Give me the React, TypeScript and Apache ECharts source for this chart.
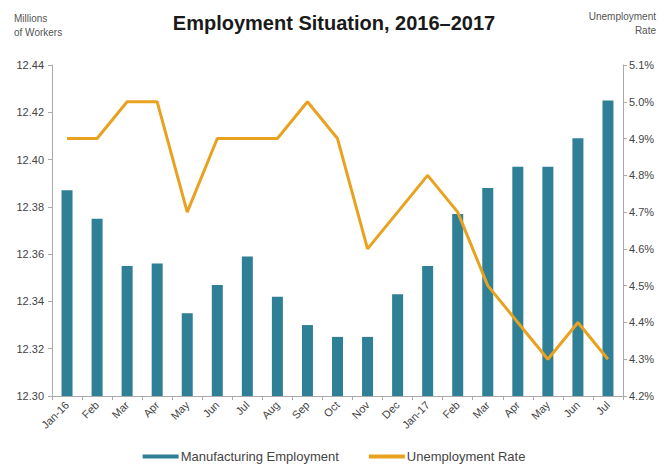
import React, { useEffect, useRef } from "react";
import * as echarts from "echarts";

const categories = ["Jan-16", "Feb", "Mar", "Apr", "May", "Jun", "Jul", "Aug", "Sep", "Oct", "Nov", "Dec", "Jan-17", "Feb", "Mar", "Apr", "May", "Jun", "Jul"];
const manufacturing = [12.387, 12.375, 12.355, 12.356, 12.335, 12.347, 12.359, 12.342, 12.330, 12.325, 12.325, 12.343, 12.355, 12.377, 12.388, 12.397, 12.397, 12.409, 12.425];
const unemployment = [4.9, 4.9, 5.0, 5.0, 4.7, 4.9, 4.9, 4.9, 5.0, 4.9, 4.6, 4.7, 4.8, 4.7, 4.5, 4.4, 4.3, 4.4, 4.3];

const FONT = "Liberation Sans, Arial, sans-serif";

export default function App() {
  const ref = useRef<HTMLDivElement>(null);
  useEffect(() => {
    document.body.style.margin = "0";
    if (!ref.current) return;
    const chart = echarts.init(ref.current, null, { renderer: "svg" });
    chart.setOption({
      animation: false,
      backgroundColor: "#ffffff",
      textStyle: { fontFamily: FONT },
      title: {
        text: "Employment Situation, 2016–2017",
        left: "center",
        top: 8,
        textStyle: { fontSize: 20, fontWeight: "bold", color: "#1a1a1a", fontFamily: FONT },
      },
      graphic: [
        {
          type: "text",
          left: 14,
          top: 11,
          style: { text: "Millions\nof Workers", fontSize: 10, fill: "#555", fontFamily: FONT, lineHeight: 14 },
        },
        {
          type: "text",
          right: 12,
          top: 11,
          style: { text: "Unemployment", fontSize: 10, fill: "#555", fontFamily: FONT },
        },
        {
          type: "text",
          right: 12,
          top: 25,
          style: { text: "Rate", fontSize: 10, fill: "#555", fontFamily: FONT },
        },
      ],
      legend: {
        bottom: 2,
        left: "center",
        itemGap: 30,
        itemWidth: 36,
        itemHeight: 4,
        textStyle: { fontSize: 13, color: "#444", fontFamily: FONT, padding: [0, 0, 0, -3] },
        data: [
          { name: "Manufacturing Employment", icon: "rect" },
          { name: "Unemployment Rate", icon: "rect" },
        ],
      },
      grid: { left: 52, right: 45, top: 65, bottom: 74 },
      xAxis: {
        type: "category",
        data: categories,
        axisLine: { lineStyle: { color: "#aaa" } },
        axisTick: { show: true, alignWithLabel: false, lineStyle: { color: "#aaa" }, length: 4 },
        axisLabel: { rotate: 45, fontSize: 11, color: "#444", fontFamily: FONT, interval: 0, margin: 7 },
      },
      yAxis: [
        {
          type: "value",
          min: 12.3,
          max: 12.44,
          interval: 0.02,
          position: "left",
          splitLine: { show: false },
          axisLine: { show: true, lineStyle: { color: "#aaa" } },
          axisTick: { show: true, inside: false, length: 4, lineStyle: { color: "#aaa" } },
          axisLabel: { fontSize: 11, color: "#444", fontFamily: FONT, formatter: (v: number) => v.toFixed(2), margin: 8 },
        },
        {
          type: "value",
          min: 4.2,
          max: 5.1,
          interval: 0.1,
          position: "right",
          splitLine: { show: false },
          axisLine: { show: true, lineStyle: { color: "#aaa" } },
          axisTick: { show: true, length: 4, lineStyle: { color: "#aaa" } },
          axisLabel: { fontSize: 11, color: "#444", fontFamily: FONT, formatter: (v: number) => v.toFixed(1) + "%", margin: 6 },
        },
      ],
      series: [
        {
          name: "Manufacturing Employment",
          type: "bar",
          data: manufacturing,
          yAxisIndex: 0,
          barWidth: 11,
          itemStyle: { color: "#2f7f96" },
        },
        {
          name: "Unemployment Rate",
          type: "line",
          data: unemployment,
          yAxisIndex: 1,
          symbol: "none",
          lineStyle: { color: "#e8a21f", width: 3 },
          itemStyle: { color: "#e8a21f" },
        },
      ],
    });
    return () => chart.dispose();
  }, []);
  return <div ref={ref} style={{ width: 668, height: 470 }} />;
}
